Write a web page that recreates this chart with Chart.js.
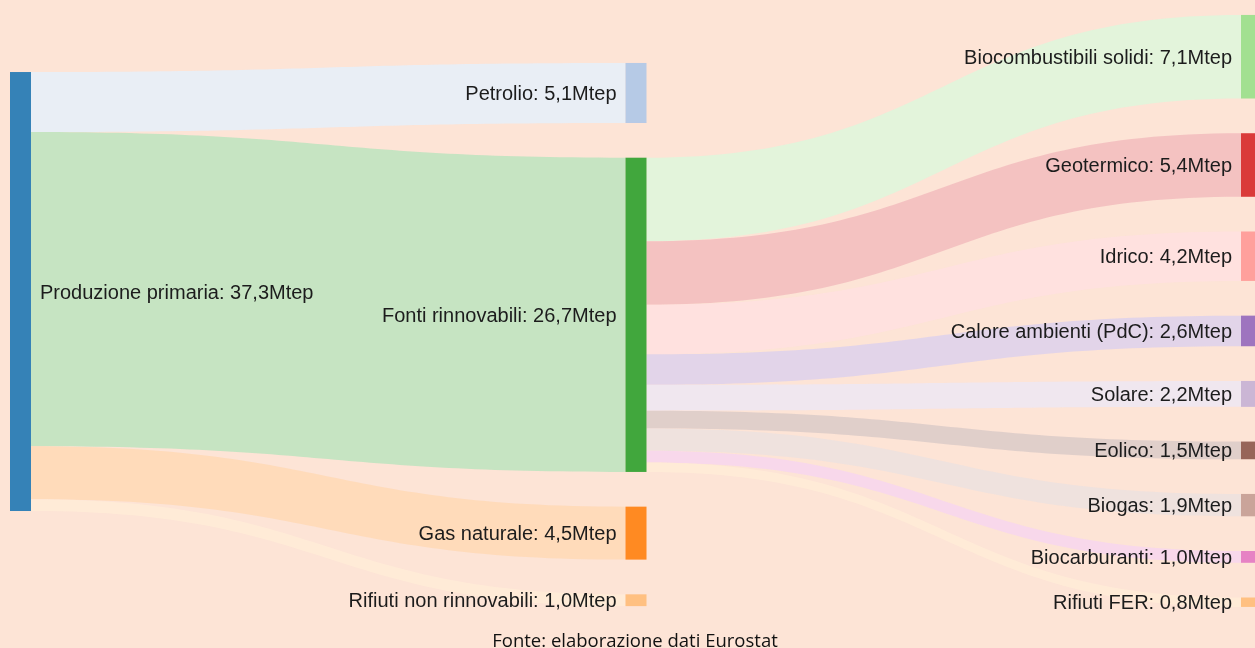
<!DOCTYPE html>
<html>
<head>
<meta charset="utf-8">
<title>Produzione primaria - Sankey</title>
<script src="https://cdn.jsdelivr.net/npm/chart.js"></script>
<style>
  html, body { margin: 0; padding: 0; background: #fde4d6; }
  #wrap { position: relative; width: 1255px; height: 648px; }
</style>
</head>
<body>
<div id="wrap"><canvas id="sankey"></canvas></div>
<script>
// nodes
const nodeNames = [
  'Produzione primaria', 'Petrolio', 'Fonti rinnovabili', 'Gas naturale', 'Rifiuti non rinnovabili',
  'Biocombustibili solidi', 'Geotermico', 'Idrico', 'Calore ambienti (PdC)', 'Solare',
  'Eolico', 'Biogas', 'Biocarburanti', 'Rifiuti FER'
];
const nodeColumns = [0, 1, 1, 1, 1, 2, 2, 2, 2, 2, 2, 2, 2, 2];
const nodeColors = [
  '#1f77b4', '#aec7e8', '#2ca02c', '#ff7f0e', '#ffbb78',
  '#98df8a', '#d62728', '#ff9896', '#9467bd', '#c5b0d5',
  '#8c564b', '#c49c94', '#e377c2', '#ffbb78'
];

// links (Mtep)
const linkSources = [0, 0, 0, 0, 2, 2, 2, 2, 2, 2, 2, 2, 2];
const linkTargets = [1, 2, 3, 4, 5, 6, 7, 8, 9, 10, 11, 12, 13];
const linkValues  = [5.1, 26.7, 4.5, 1.0, 7.1, 5.4, 4.2, 2.6, 2.2, 1.5, 1.9, 1.0, 0.8];

const unit = 'Mtep';
const sourceNote = 'Fonte: elaborazione dati Eurostat';

// layout (in Mtep units on the y scale)
const yMax = 55.06;
const columnTops = [6.12, 5.35, 1.27];
const nodeGap = 2.95;
const nodeWidth = 21;

function hexToRgb(h) {
  const n = parseInt(h.slice(1), 16);
  return [(n >> 16) & 255, (n >> 8) & 255, n & 255];
}
function nodeFill(h) {
  const [r, g, b] = hexToRgb(h);
  return `rgba(${r},${g},${b},0.9)`;
}
function linkFill(h) {
  const [r, g, b] = hexToRgb(h).map(v => Math.round(v * 0.3 + 255 * 0.7));
  return `rgba(${r},${g},${b},0.9)`;
}
const fmt = v => v.toFixed(1).replace('.', ',') + unit;

function buildLayout() {
  const nodes = nodeNames.map((name, i) => {
    const out = linkValues.filter((v, k) => linkSources[k] === i).reduce((a, b) => a + b, 0);
    const inn = linkValues.filter((v, k) => linkTargets[k] === i).reduce((a, b) => a + b, 0);
    return { i, name, col: nodeColumns[i], value: Math.max(out, inn), color: nodeColors[i] };
  });
  columnTops.forEach((top, c) => {
    let yy = top;
    nodes.filter(n => n.col === c).forEach(n => {
      n.y0 = yy; n.y1 = yy + n.value; yy = n.y1 + nodeGap;
      n.outOff = n.y0; n.inOff = n.y0;
    });
  });
  const links = linkValues.map((v, k) => ({ s: nodes[linkSources[k]], t: nodes[linkTargets[k]], v }));
  links.slice().sort((a, b) => a.t.y0 - b.t.y0).forEach(l => { l.sy0 = l.s.outOff; l.s.outOff += l.v; l.sy1 = l.s.outOff; });
  links.slice().sort((a, b) => a.s.y0 - b.s.y0).forEach(l => { l.ty0 = l.t.inOff; l.t.inOff += l.v; l.ty1 = l.t.inOff; });
  return { nodes, links };
}

const sankeyPlugin = {
  id: 'sankeyDraw',
  beforeDatasetsDraw(chart) {
    const { ctx, scales: { x, y } } = chart;
    const { nodes, links } = buildLayout();
    ctx.save();
    // flows
    links.forEach(l => {
      const xs = x.getPixelForValue(l.s.col) + nodeWidth;
      const xt = x.getPixelForValue(l.t.col);
      const xm = (xs + xt) / 2;
      const a0 = y.getPixelForValue(l.sy0), a1 = y.getPixelForValue(l.sy1);
      const b0 = y.getPixelForValue(l.ty0), b1 = y.getPixelForValue(l.ty1);
      ctx.beginPath();
      ctx.moveTo(xs, a0);
      ctx.bezierCurveTo(xm, a0, xm, b0, xt, b0);
      ctx.lineTo(xt, b1);
      ctx.bezierCurveTo(xm, b1, xm, a1, xs, a1);
      ctx.closePath();
      ctx.fillStyle = linkFill(l.t.color);
      ctx.fill();
    });
    // nodes
    nodes.forEach(n => {
      const px = x.getPixelForValue(n.col);
      const top = y.getPixelForValue(n.y0), bot = y.getPixelForValue(n.y1);
      ctx.fillStyle = nodeFill(n.color);
      ctx.fillRect(px, top, nodeWidth, bot - top);
    });
    // labels
    ctx.font = '20px "Liberation Sans", Arial, sans-serif';
    ctx.fillStyle = '#1c1c1c';
    ctx.textBaseline = 'middle';
    nodes.forEach(n => {
      const px = x.getPixelForValue(n.col);
      const cy = y.getPixelForValue((n.y0 + n.y1) / 2) + 1.5;
      const txt = n.name + ': ' + fmt(n.value);
      if (n.col === 0) { ctx.textAlign = 'left'; ctx.fillText(txt, px + nodeWidth + 9, cy); }
      else { ctx.textAlign = 'right'; ctx.fillText(txt, px - 9, cy); }
    });
    // source note
    ctx.font = '18.5px "Open Sans", sans-serif';
    ctx.textAlign = 'center';
    ctx.textBaseline = 'alphabetic';
    ctx.fillStyle = '#111';
    ctx.fillText(sourceNote, 635, 647);
    ctx.restore();
  }
};

new Chart(document.getElementById('sankey'), {
  type: 'scatter',
  data: { datasets: [] },
  options: {
    responsive: true,
    maintainAspectRatio: false,
    animation: false,
    layout: { padding: { left: 10, right: 14, top: 0, bottom: 0 } },
    plugins: { legend: { display: false }, tooltip: { enabled: false } },
    scales: {
      x: { type: 'linear', min: 0, max: 2, display: false },
      y: { type: 'linear', min: 0, max: yMax, reverse: true, display: false }
    }
  },
  plugins: [sankeyPlugin]
});
</script>
</body>
</html>
